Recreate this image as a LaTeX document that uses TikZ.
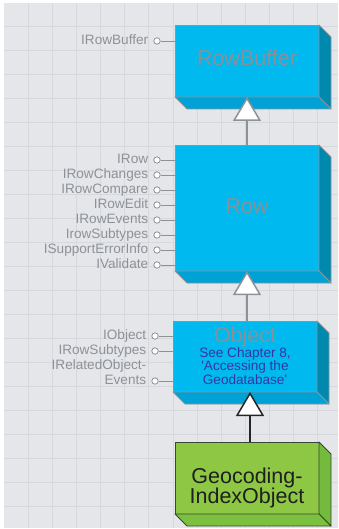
\documentclass[tikz,border=0pt]{standalone}
\usepackage{fontspec}
\setmainfont{Liberation Sans}
\usetikzlibrary{arrows.meta}

\definecolor{paper}{HTML}{E5E6EA}
\definecolor{gridc}{HTML}{D6D8DD}
\definecolor{blueface}{HTML}{00B9EF}
\definecolor{blueside}{HTML}{0089AE}
\definecolor{bluebottom}{HTML}{00A2D6}
\definecolor{blueedge}{HTML}{8B939B}
\definecolor{greenface}{HTML}{8DC744}
\definecolor{greenside}{HTML}{73BA3E}
\definecolor{greenbottom}{HTML}{7CC040}
\definecolor{greenedge}{HTML}{3A4732}
\definecolor{labelgrey}{HTML}{8C9298}
\definecolor{titlegrey}{HTML}{8A9098}
\definecolor{refblue}{HTML}{3636A3}

% extruded faces (right and bottom) of a class box
\newcommand\classdepth[4]{%
  \filldraw[fill=#2,draw=#4,line width=0.9pt,line join=round]
    (#1.north east) -- ([shift={(12,12)}]#1.north east)
    -- ([shift={(12,12)}]#1.south east) -- (#1.south east) -- cycle;
  \filldraw[fill=#3,draw=#4,line width=0.9pt,line join=round]
    (#1.south west) -- (#1.south east)
    -- ([shift={(12,12)}]#1.south east) -- ([shift={(12,12)}]#1.south west) -- cycle;
}

\begin{document}
\begin{tikzpicture}[x=1pt,y=-1pt,
  gridline/.style={draw=gridc,line width=0.9pt},
  bluebox/.style={rectangle,draw=blueedge,fill=blueface,line width=0.9pt,
    minimum width=144pt,inner sep=0pt,outer sep=0pt},
  greenbox/.style={rectangle,draw=greenedge,fill=greenface,line width=0.9pt,
    minimum width=144pt,inner sep=0pt,outer sep=0pt},
  boxtitle/.style={inner sep=0pt,text=titlegrey,font=\fontsize{21.5}{20}\selectfont},
  reftext/.style={inner sep=0pt,text=refblue,font=\fontsize{13.6}{14}\selectfont},
  lolli/.style={circle,draw=labelgrey,fill=white,line width=0.8pt,
    minimum size=6.4pt,inner sep=0pt},
  iflabel/.style={inner sep=0pt,anchor=base east,text=labelgrey,
    font=\fontsize{13.6}{15}\selectfont},
  stem/.style={draw=labelgrey,line width=0.9pt},
  inherit/.style={draw=labelgrey,line width=1.5pt,
    -{Triangle[length=24pt,width=28pt,fill=white]}},
  inheritdark/.style={draw=black!85,line width=1.5pt,
    -{Triangle[length=24pt,width=28pt,fill=white]}}]
\useasboundingbox (0,0) rectangle (338,529);

% background grid
\fill[paper] (4,3) rectangle (338,528);
\foreach \i in {1,...,13} \draw[gridline] (4.2+24.12*\i,3) -- (4.2+24.12*\i,528);
\foreach \j in {1,...,21} \draw[gridline] (4,2.7+24*\j) -- (338,2.7+24*\j);

% class boxes
\node[bluebox,minimum height=72pt] (rowbuffer) at (247,61) {};
\classdepth{rowbuffer}{blueside}{bluebottom}{blueedge}
\node[boxtitle,anchor=base] (rowbuffertitle) at ([yshift=-5pt]rowbuffer.center) {RowBuffer};

\node[bluebox,minimum height=126pt] (row) at (247,208) {};
\classdepth{row}{blueside}{bluebottom}{blueedge}
\node[boxtitle,anchor=base] (rowtitle) at ([yshift=-6pt]row.center) {Row};

\node[bluebox,minimum height=71pt] (object) at (245,356.5) {};
\classdepth{object}{blueside}{bluebottom}{blueedge}
\node[boxtitle,anchor=base] (objecttitle) at ([yshift=14.5pt]object.center) {Object};
\node[reftext,anchor=base] (ref1) at ([yshift=-0.5pt]object.center) {See Chapter 8,};
\node[reftext,anchor=base] (ref2) at ([yshift=-14pt]object.center) {\textquotesingle Accessing the};
\node[reftext,anchor=base] (ref3) at ([yshift=-27.5pt]object.center) {Geodatabase\textquotesingle};

\node[greenbox,minimum height=72pt] (geocoding) at (247,478) {};
\classdepth{geocoding}{greenside}{greenbottom}{greenedge}
\node[boxtitle,text=black!88,anchor=base] (geo1) at ([yshift=-5pt]geocoding.center) {Geocoding-};
\node[boxtitle,text=black!88,anchor=base] (geo2) at ([yshift=-25pt]geocoding.center) {IndexObject};

% inheritance
\draw[inherit] (row.north) -- (rowbuffer.south);
\draw[inherit] (object.north -| row.south) -- (row.south);
\draw[inheritdark] (geocoding.north -| 250,0) -- (object.south -| 250,0);

% interfaces of RowBuffer
\node[lolli] (ib1) at (157,41) {};
\node[iflabel] (ibl1) at ([xshift=-5pt,yshift=-3.5pt]ib1.west) {IRowBuffer};
\draw[stem] (ib1) -- (ib1 -| rowbuffer.west);

% interfaces of Row
\foreach \lab [count=\i] in {IRow,IRowChanges,IRowCompare,IRowEdit,IRowEvents,IrowSubtypes,ISupportErrorInfo,IValidate}{
  \node[lolli] (ir\i) at (157,145+15*\i) {};
  \node[iflabel] (irl\i) at ([xshift=-5pt,yshift=-3.5pt]ir\i.west) {\lab};
  \draw[stem] (ir\i) -- (ir\i -| row.west);
}

% interfaces of Object
\node[lolli] (io1) at (155,336) {};
\node[iflabel] (iol1) at ([xshift=-5pt,yshift=-3.5pt]io1.west) {IObject};
\draw[stem] (io1) -- (io1 -| object.west);
\node[lolli] (io2) at (155,351) {};
\node[iflabel] (iol2) at ([xshift=-5pt,yshift=-3.5pt]io2.west) {IRowSubtypes};
\draw[stem] (io2) -- (io2 -| object.west);
\node[lolli] (io3) at (155,381) {};
\node[iflabel] (iol3a) at ([xshift=-5pt,yshift=11.5pt]io3.west) {IRelatedObject-};
\node[iflabel] (iol3) at ([xshift=-5pt,yshift=-3.5pt]io3.west) {Events};
\draw[stem] (io3) -- (io3 -| object.west);
\end{tikzpicture}
\end{document}
